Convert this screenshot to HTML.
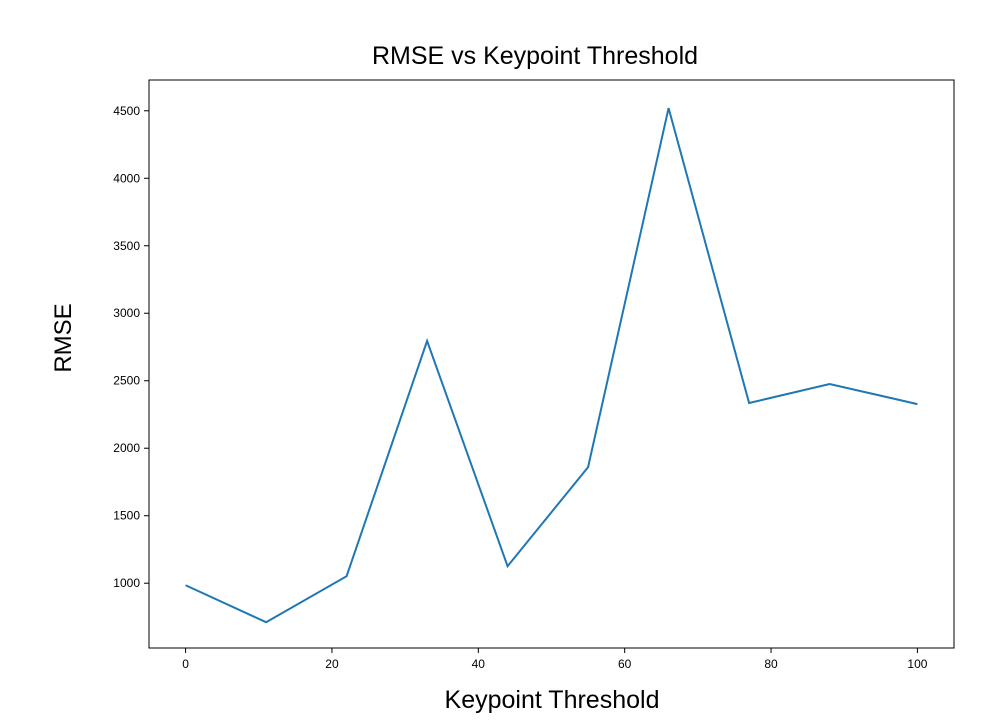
<!DOCTYPE html>
<html><head><meta charset="utf-8"><style>
body{margin:0;background:#fff;}
svg text{font-family:"Liberation Sans","DejaVu Sans",sans-serif;}
</style></head><body>
<svg id="chart" width="995" height="723" xmlns="http://www.w3.org/2000/svg">
<rect width="995" height="723" fill="#fff"/>
<text x="535" y="64" font-size="25" text-anchor="middle">RMSE vs Keypoint Threshold</text>
<text x="552" y="708" font-size="25" text-anchor="middle">Keypoint Threshold</text>
<text x="0" y="0" font-size="24" text-anchor="middle" transform="translate(71,338) rotate(-90)">RMSE</text>
<g id="ticks"></g>
<path id="line" fill="none" stroke="#1f77b4" stroke-width="2"/>
<rect x="149" y="80" width="805" height="568" fill="none" stroke="#000" stroke-width="1"/>
</svg>
<script>
const thresholds=[0,11,22,33,44,55,66,77,88,100];
const rmse=[985,711,1052,2795,1126,1860,4520,2335,2476,2327];
const xTicks=[0,20,40,60,80,100];
const yTicks=[1000,1500,2000,2500,3000,3500,4000,4500];
const L=149,R=954,T=80,B=648;
const xmin=-5,xmax=105,ymin=520,ymax=4728;
const xs=v=>L+(v-xmin)/(xmax-xmin)*(R-L);
const ys=v=>B-(v-ymin)/(ymax-ymin)*(B-T);
const NS="http://www.w3.org/2000/svg";
const g=document.getElementById('ticks');
function mk(t,a){const e=document.createElementNS(NS,t);for(const k in a)e.setAttribute(k,a[k]);g.appendChild(e);return e;}
xTicks.forEach(v=>{
 const l=mk('line',{x1:xs(v),x2:xs(v),y1:B,y2:B+5,stroke:'#000'});
 
 
 const t=mk('text',{x:xs(v),y:B+20,'font-size':12,'text-anchor':'middle'});t.textContent=v;
 
 
});
yTicks.forEach(v=>{
 const l=mk('line',{x1:L-5,x2:L,y1:ys(v),y2:ys(v),stroke:'#000'});
 
 
 const t=mk('text',{x:L-9,y:ys(v)+4,'font-size':12,'text-anchor':'end'});t.textContent=v;
 
 
});
document.getElementById('line').setAttribute('d',thresholds.map((x,i)=>(i?'L':'M')+xs(x)+','+ys(rmse[i])).join(' '));
</script>
</body></html>
